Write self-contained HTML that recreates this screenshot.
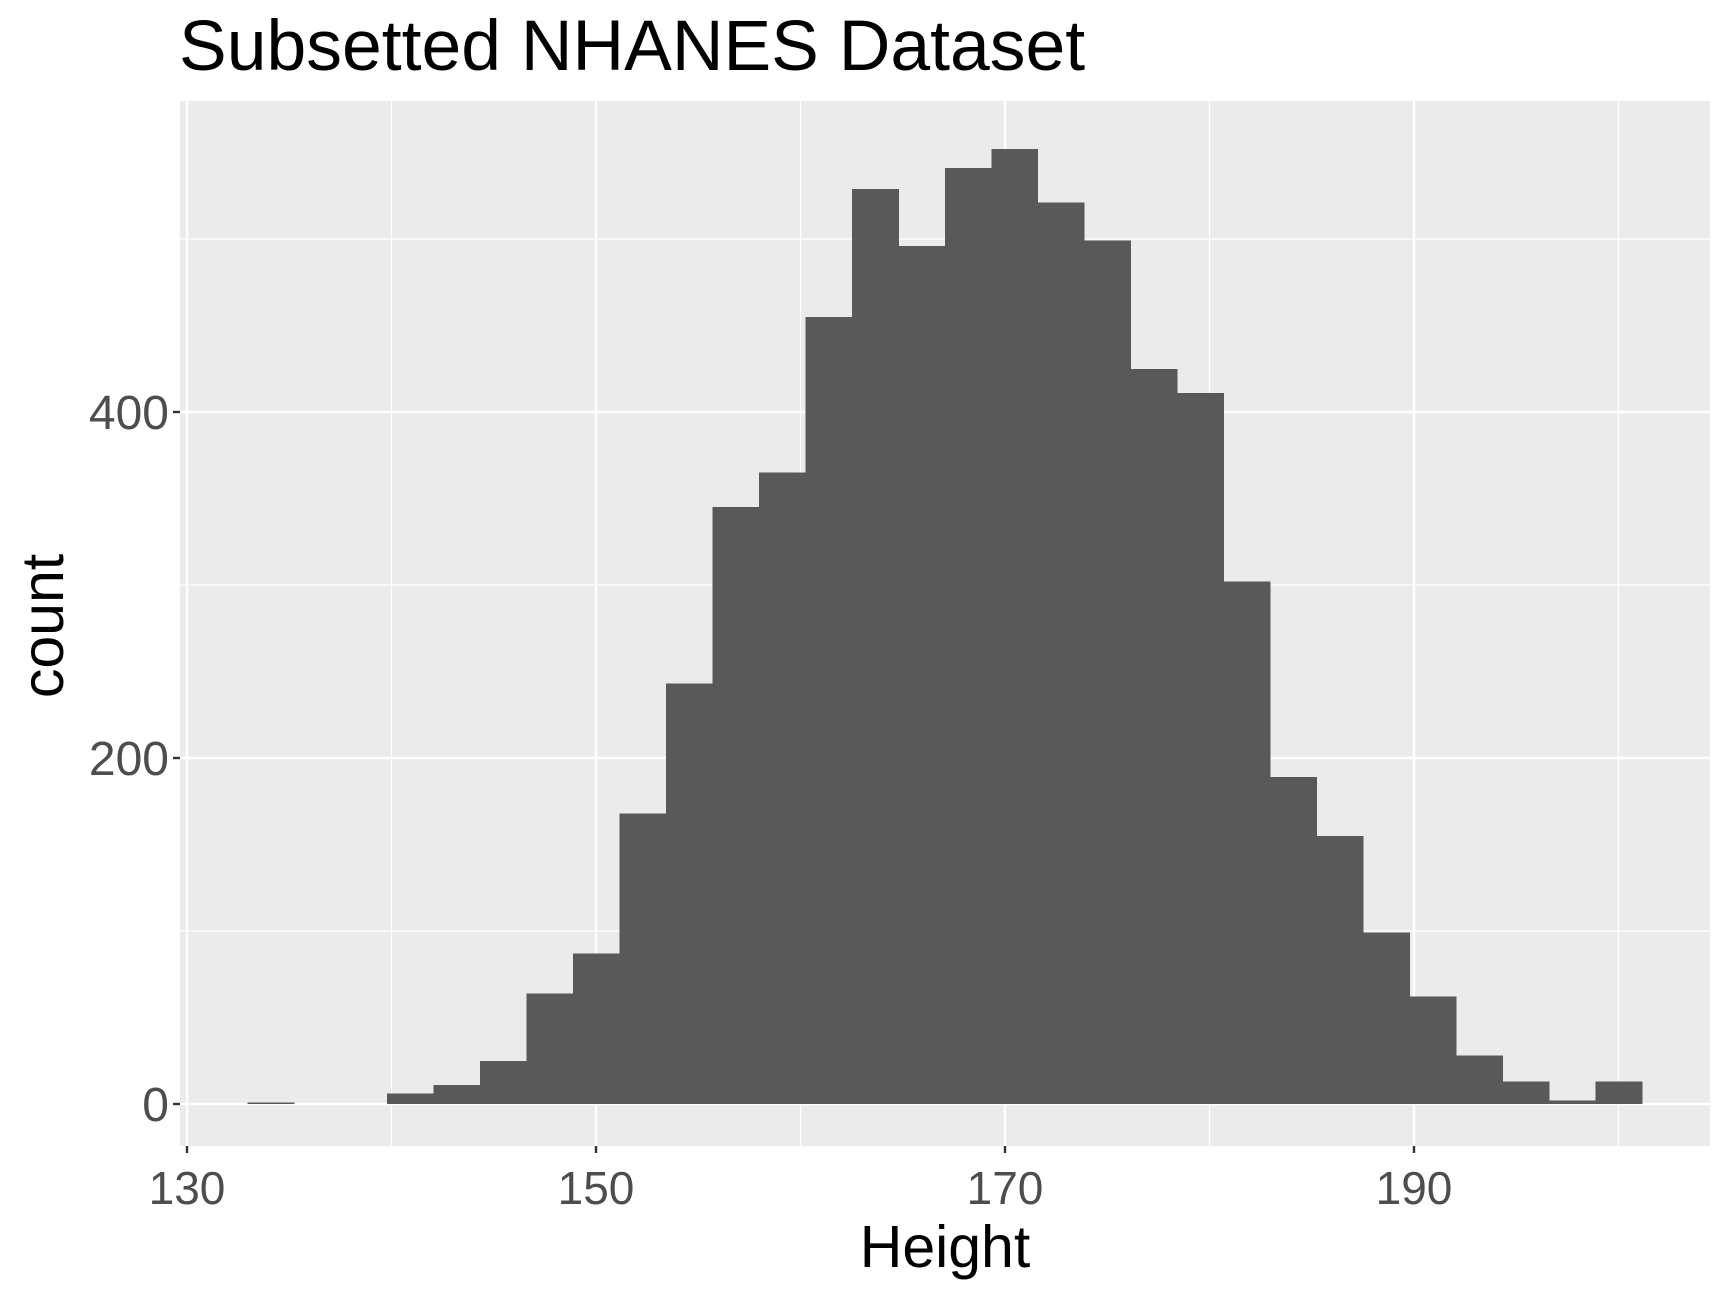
<!DOCTYPE html>
<html><head><meta charset="utf-8"><style>
html,body{margin:0;padding:0;background:#fff;}
svg{display:block;font-family:"Liberation Sans",Arial,sans-serif;}
</style></head><body>
<svg id="chart" width="1728" height="1296" viewBox="0 0 1728 1296">
<text x="179" y="70" font-size="71.5" fill="#000">Subsetted NHANES Dataset</text>
<rect x="180" y="101" width="1530" height="1045" fill="#ebebeb"/>
<g id="grid"></g>
<g id="bars" shape-rendering="crispEdges"></g>
<g id="axes"></g>
<text x="945" y="1267" font-size="59" text-anchor="middle" fill="#000">Height</text>
<text transform="translate(63,626) rotate(-90)" font-size="59" text-anchor="middle" fill="#000">count</text>
</svg>
<script>
const binStart = 132.96;
const binWidth = 2.273;
const counts = [1,0,0,6,11,25,64,87,168,243,345,365,455,529,496,541,552,521,499,425,411,302,189,155,99,62,28,13,2,13];
const xTicks = [130,150,170,190];
const xMinor = [140,160,180,200];
const yTicks = [0,200,400];
const yMinor = [100,300,500];
const NS="http://www.w3.org/2000/svg";
const px0=180, px1=1710, py0=101, py1=1146;
function xs(v){return 187+(v-130)*(1414-187)/60;}
function ys(v){return 1104-v*(1104-412)/400;}
function mk(tag,attrs,parent){const e=document.createElementNS(NS,tag);for(const k in attrs)e.setAttribute(k,attrs[k]);parent.appendChild(e);return e;}
const grid=document.getElementById('grid'),bars=document.getElementById('bars'),axes=document.getElementById('axes');
xMinor.forEach(v=>{const x=xs(v);if(x<px1){const l=mk('line',{x1:x,x2:x,y1:py0,y2:py1,stroke:'#fff','stroke-width':1.2},grid);

}});
yMinor.forEach(v=>{const y=ys(v);const l=mk('line',{x1:px0,x2:px1,y1:y,y2:y,stroke:'#fff','stroke-width':1.2},grid);

});
xTicks.forEach(v=>{const x=xs(v);const l=mk('line',{x1:x,x2:x,y1:py0,y2:py1,stroke:'#fff','stroke-width':2.4},grid);


const t=mk('line',{x1:x,x2:x,y1:py1,y2:py1+7,stroke:'#333','stroke-width':2.4},axes);


const tx=mk('text',{x:x,y:py1+58,'font-size':46,'text-anchor':'middle',fill:'#4d4d4d'},axes);tx.textContent=v;

});
yTicks.forEach(v=>{const y=ys(v);const l=mk('line',{x1:px0,x2:px1,y1:y,y2:y,stroke:'#fff','stroke-width':2.4},grid);


const t=mk('line',{x1:px0-7,x2:px0,y1:y,y2:y,stroke:'#333','stroke-width':2.4},axes);


const tx=mk('text',{x:px0-11,y:y+17,'font-size':48,'text-anchor':'end',fill:'#4d4d4d'},axes);tx.textContent=v;

});
counts.forEach((c,i)=>{if(c<=0)return;const x0=xs(binStart+i*binWidth),x1=xs(binStart+(i+1)*binWidth);const y=ys(c);
const r=mk('rect',{x:x0,y:Math.min(y,ys(0)-1),width:x1-x0+0.5,height:Math.max(ys(0)-y,1),fill:'#595959'},bars);

});
</script>
</body></html>
